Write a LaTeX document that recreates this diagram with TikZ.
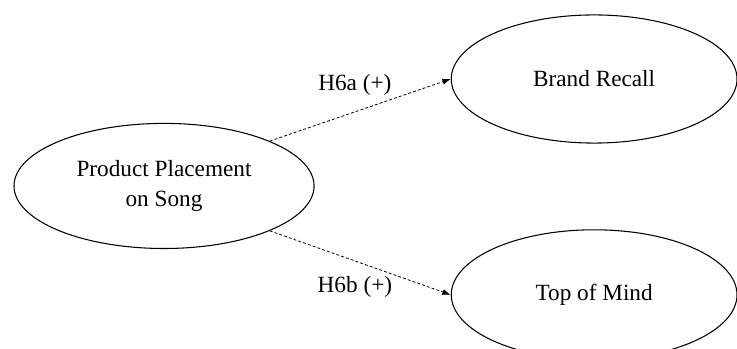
\documentclass[tikz,border=0pt]{standalone}
\usepackage{fontspec}
\setmainfont{Liberation Serif}
\usetikzlibrary{arrows.meta,shapes.geometric}
\tikzset{
  construct/.style={draw=black, line width=0.8pt, ellipse, inner sep=0pt,
                    align=center, font=\fontsize{17.5}{22.5}\selectfont},
  hyp/.style={black, line width=0.6pt, dash pattern=on 2.2pt off 1.6pt,
              -{Latex[length=2.2mm,width=1.6mm]}},
  hyplab/.style={font=\fontsize{17.5}{21}\selectfont},
}
\begin{document}
\begin{tikzpicture}[x=1cm,y=1cm]
  \useasboundingbox (0,0) rectangle (19.50,9.23);

  \node[construct, minimum width=7.94cm, minimum height=3.31cm] (pp) at (4.34,4.31)
    {Product Placement\\on Song};
  \node[construct, minimum width=7.56cm, minimum height=3.39cm] (br) at (15.72,7.14)
    {Brand Recall};
  \node[construct, minimum width=7.56cm, minimum height=3.44cm] (tm) at (15.72,1.43)
    {Top of Mind};

  \draw[hyp] (pp.23) -- (br.west);
  \draw[hyp] (pp.-23) -- (tm.west);

  \node[hyplab] (h6a) at (9.39,6.98) {H6a (+)};
  \node[hyplab] (h6b) at (9.39,1.64) {H6b (+)};
\end{tikzpicture}
\end{document}
